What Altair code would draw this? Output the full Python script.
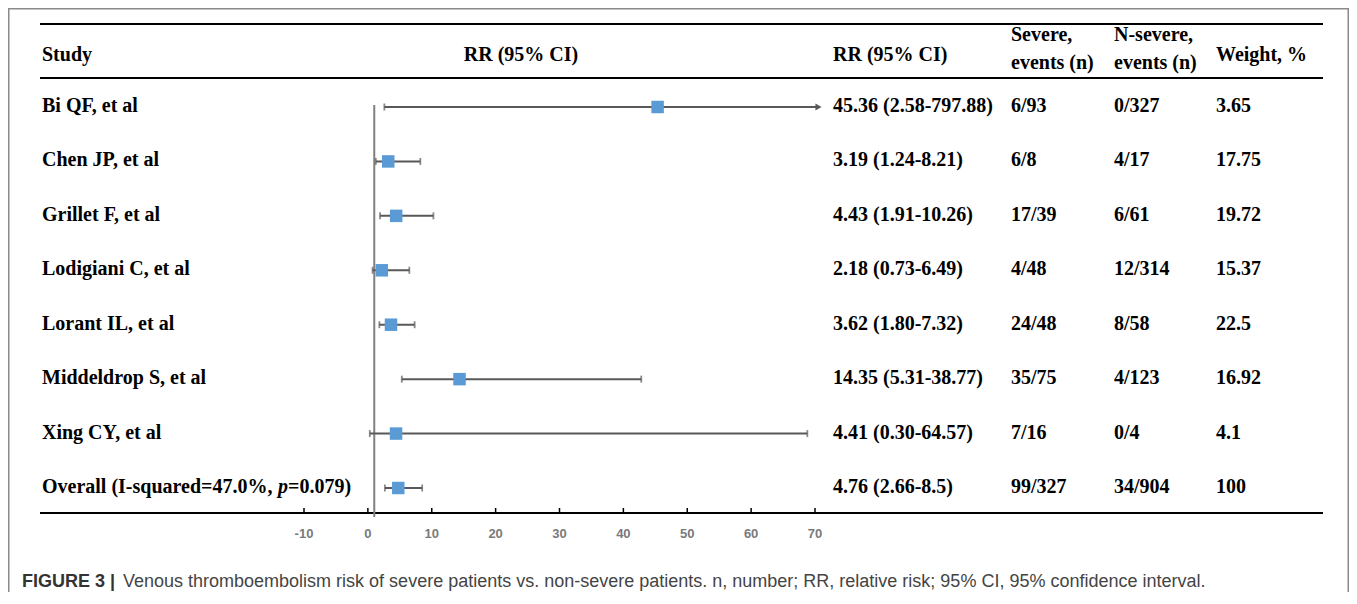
import altair as alt
import pandas as pd

# ---------------- data ----------------
studies = ["Bi QF, et al", "Chen JP, et al", "Grillet F, et al", "Lodigiani C, et al",
           "Lorant IL, et al", "Middeldrop S, et al", "Xing CY, et al"]
overall_label = ["Overall (I-squared=47.0%, ", "p", "=0.079)"]
rr = [45.36, 3.19, 4.43, 2.18, 3.62, 14.35, 4.41, 4.76]
ci_text = ["45.36 (2.58-797.88)", "3.19 (1.24-8.21)", "4.43 (1.91-10.26)", "2.18 (0.73-6.49)",
           "3.62 (1.80-7.32)", "14.35 (5.31-38.77)", "4.41 (0.30-64.57)", "4.76 (2.66-8.5)"]
severe = ["6/93", "6/8", "17/39", "4/48", "24/48", "35/75", "7/16", "99/327"]
nsevere = ["0/327", "4/17", "6/61", "12/314", "8/58", "4/123", "0/4", "34/904"]
weight = ["3.65", "17.75", "19.72", "15.37", "22.5", "16.92", "4.1", "100"]
# whisker ends as drawn in the figure (upper end of the first row is cut by an arrow)
ci_low_drawn = [2.58, 1.24, 1.91, 0.73, 1.80, 5.31, 0.30, 2.66]
ci_high_drawn = [70.55, 8.21, 10.26, 6.49, 7.32, 42.8, 68.8, 8.5]
arrow_row = [True, False, False, False, False, False, False, False]
axis_ticks = [-10, 0, 10, 20, 30, 40, 50, 60, 70]
null_value = 1
header_cols = ["Study", "RR (95% CI)", "RR (95% CI)", "Weight, %"]
two_line_headers = [["Severe,", "events (n)"], ["N-severe,", "events (n)"]]
caption_bold = "FIGURE 3 |"
caption_text = ("Venous thromboembolism risk of severe patients vs. non-severe patients. "
                "n, number; RR, relative risk; 95% CI, 95% confidence interval.")

# ---------------- tables ----------------
n = len(rr)
rows = pd.DataFrame({
    "row": list(range(n)),
    "rr": rr,
    "lo": ci_low_drawn,
    "hi": ci_high_drawn,
    "ci": ci_text,
    "sev": severe,
    "nsev": nsevere,
    "w": weight,
    "arrow": arrow_row,
})
study_df = pd.DataFrame({"row": list(range(len(studies))), "name": studies})
overall_df = pd.DataFrame({"row": [n - 1]})
ticks_df = pd.DataFrame({"t": axis_ticks, "lab": [str(t) for t in axis_ticks]})
one = pd.DataFrame({"a": [0]})

W, H = 1341, 584
SERIF = "Liberation Serif"
FS = 20
INK = "#000000"
LINE = "#595959"
BLUE = "#5b9bd5"

yrow = alt.Y("row:Q", scale=alt.Scale(domain=[0, 7], range=[99, 480.0]), axis=None)

def xq(field):
    return alt.X(field, type="quantitative",
                 scale=alt.Scale(domain=[-10, 70], range=[296, 807]), axis=None)

base = alt.Chart(rows)

# whiskers
whisk = base.mark_rule(color=LINE, strokeWidth=2).encode(x=xq("lo"), x2="hi:Q", y=yrow)
cap_lo = base.mark_tick(color=LINE, orient="vertical", size=7, thickness=1.8).encode(x=xq("lo"), y=yrow)
cap_hi = base.transform_filter("!datum.arrow").mark_tick(
    color=LINE, orient="vertical", size=7, thickness=1.8).encode(x=xq("hi"), y=yrow)
arrow = base.transform_filter("datum.arrow").mark_point(
    shape="triangle-right", filled=True, color=LINE, size=50, opacity=1).encode(x=xq("hi"), y=yrow)
squares = base.mark_square(color=BLUE, size=156, opacity=1).encode(x=xq("rr"), y=yrow)

# null line
null_line = alt.Chart(pd.DataFrame({"v": [null_value]})).mark_rule(
    color="#808080", strokeWidth=2).encode(x=xq("v"), y=alt.value(97), y2=alt.value(509))

# axis ticks & labels
tick_marks = alt.Chart(ticks_df).mark_rule(color="#000000", strokeWidth=1.5).encode(
    x=xq("t"), y=alt.value(500), y2=alt.value(505))
tick_labels = alt.Chart(ticks_df).mark_text(
    font="Liberation Sans", fontSize=13, fontWeight="bold", color="#7a7a7a",
    baseline="middle", align="center").encode(x=xq("t"), y=alt.value(526), text="lab:N")

# horizontal table rules
def hrule(yv):
    return alt.Chart(one).mark_rule(color="#000000", strokeWidth=2).encode(
        x=alt.value(32), x2=alt.value(1315), y=alt.value(yv))

rules = [hrule(16), hrule(70), hrule(505)]

# frame
frame_col = "#8a8a8a"
frame = [
    alt.Chart(one).mark_rule(color=frame_col, strokeWidth=1.5).encode(
        x=alt.value(0.75), y=alt.value(0), y2=alt.value(H)),
    alt.Chart(one).mark_rule(color=frame_col, strokeWidth=1.5).encode(
        x=alt.value(0), x2=alt.value(W), y=alt.value(0.75)),
    alt.Chart(one).mark_rule(color=frame_col, strokeWidth=1.5).encode(
        x=alt.value(W - 0.75), y=alt.value(0), y2=alt.value(H)),
]

# header texts
def txt(df_text, xv, yv, **kw):
    d = pd.DataFrame({"t": [df_text]})
    params = dict(font=SERIF, fontSize=FS, fontWeight="bold", color=INK, align="left",
                  baseline="alphabetic")
    params.update(kw)
    return alt.Chart(d).mark_text(**params).encode(x=alt.value(xv), y=alt.value(yv), text="t:N")

headers = [
    txt(header_cols[0], 34, 53),
    txt(header_cols[1], 513, 53, align="center"),
    txt(header_cols[2], 825, 53),
    txt(two_line_headers[0][0], 1003, 33),
    txt(two_line_headers[0][1], 1003, 61),
    txt(two_line_headers[1][0], 1106, 33),
    txt(two_line_headers[1][1], 1106, 61),
    txt(header_cols[3], 1208, 53),
]

# row texts
def coltext(df, field, xv):
    return alt.Chart(df).mark_text(font=SERIF, fontSize=FS, fontWeight="bold", color=INK,
                                   align="left", baseline="middle", dy=-1).encode(
        x=alt.value(xv), y=yrow, text=f"{field}:N")

row_texts = [
    coltext(study_df, "name", 34),
    coltext(rows, "ci", 825),
    coltext(rows, "sev", 1003),
    coltext(rows, "nsev", 1106),
    coltext(rows, "w", 1208),
]

ov = []
ov_x = [34, 270.0, 280.0]
for i, part in enumerate(overall_label):
    d = overall_df.assign(t=part)
    ov.append(alt.Chart(d).mark_text(font=SERIF, fontSize=FS, fontWeight="bold", color=INK,
                                     fontStyle="italic" if part == "p" else "normal",
                                     align="left", baseline="middle", dy=-1).encode(
        x=alt.value(ov_x[i]), y=yrow, text="t:N"))

# caption
cap = [
    alt.Chart(pd.DataFrame({"t": [caption_bold]})).mark_text(
        font="Liberation Sans", fontSize=18, fontWeight="bold", color="#333333",
        align="left", baseline="alphabetic").encode(x=alt.value(14), y=alt.value(579), text="t:N"),
    alt.Chart(pd.DataFrame({"t": [caption_text]})).mark_text(
        font="Liberation Sans", fontSize=18, color="#444444",
        align="left", baseline="alphabetic").encode(x=alt.value(115), y=alt.value(579), text="t:N"),
]

chart = alt.layer(
    *frame, *rules, null_line, tick_marks, tick_labels,
    whisk, cap_lo, cap_hi, arrow, squares,
    *headers, *row_texts, *ov, *cap,
).properties(width=W, height=H, padding=0, autosize=alt.AutoSizeParams(type="none")
).configure_view(stroke=None).configure(background="white")

chart.save("out.html", embed_options={"renderer": "svg", "actions": False})
